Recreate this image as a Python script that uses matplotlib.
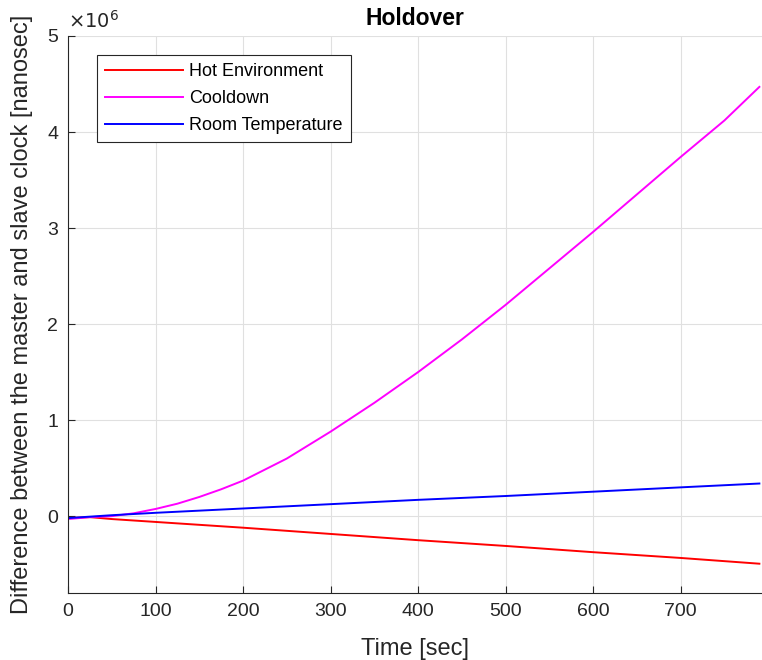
import matplotlib
matplotlib.use("Agg")
import matplotlib.pyplot as plt

# Readings (time in s, offset in 1e6 ns)
t_hot = [0, 25, 50, 100, 200, 300, 400, 500, 600, 700, 790]
hot = [-0.02, -0.01, -0.03, -0.06, -0.12, -0.185, -0.25, -0.31, -0.375, -0.435, -0.495]

t_cool = [0, 25, 50, 75, 100, 125, 150, 175, 200, 250, 300, 350, 400,
          450, 500, 550, 600, 650, 700, 750, 790]
cool = [-0.03, -0.01, 0.0, 0.03, 0.075, 0.13, 0.2, 0.28, 0.37, 0.6, 0.88,
        1.18, 1.5, 1.84, 2.2, 2.58, 2.96, 3.35, 3.74, 4.12, 4.47]

t_room = [0, 25, 50, 100, 200, 300, 400, 500, 600, 700, 790]
room = [-0.02, -0.005, 0.01, 0.035, 0.08, 0.125, 0.17, 0.21, 0.255, 0.3, 0.34]

SCALE = 1e6

plt.rcParams["font.family"] = ["Liberation Sans", "DejaVu Sans"]

fig = plt.figure(figsize=(7.62, 6.6), dpi=100)
ax = fig.add_axes([68 / 762, 1 - 593 / 660, 1 - 68 / 762, (593 - 36) / 660])

ax.plot(t_hot, [v * SCALE for v in hot], color="#ff0000", lw=1.4, label="Hot Environment")
ax.plot(t_cool, [v * SCALE for v in cool], color="#ff00ff", lw=1.4, label="Cooldown")
ax.plot(t_room, [v * SCALE for v in room], color="#0000ff", lw=1.4, label="Room Temperature")

ax.set_xlim(0, 793)
ax.set_ylim(-0.8e6, 5e6)
ax.set_xticks(range(0, 800, 100))
ax.set_yticks([0, 1e6, 2e6, 3e6, 4e6, 5e6])
ax.set_yticklabels(["0", "1", "2", "3", "4", "5"])
ax.text(0, 1.008, r"$\times10^{6}$", transform=ax.transAxes, fontsize=14,
        color="#262626", ha="left", va="bottom")

ax.grid(True, color="#e0e0e0", lw=0.8)
ax.set_axisbelow(True)
for side in ("top", "right"):
    ax.spines[side].set_visible(False)
for side in ("left", "bottom"):
    ax.spines[side].set_color("#262626")
ax.tick_params(direction="in", length=5, colors="#262626", labelsize=14, pad=7)

ax.set_title("Holdover", fontsize=16.5, fontweight="bold", pad=8)
ax.set_xlabel("Time [sec]", fontsize=17, color="#262626", labelpad=13)
ax.set_ylabel("Difference between the master and slave clock [nanosec]",
              fontsize=17, color="#262626", labelpad=10)

leg = ax.legend(loc="upper left", bbox_to_anchor=(0.042, 0.966), fontsize=13,
                fancybox=False, framealpha=1, edgecolor="#262626",
                borderpad=0.45, labelspacing=0.55, handlelength=4.3,
                handletextpad=0.35, borderaxespad=0)
leg.get_frame().set_linewidth(0.8)

fig.savefig("out.png", dpi=100)
